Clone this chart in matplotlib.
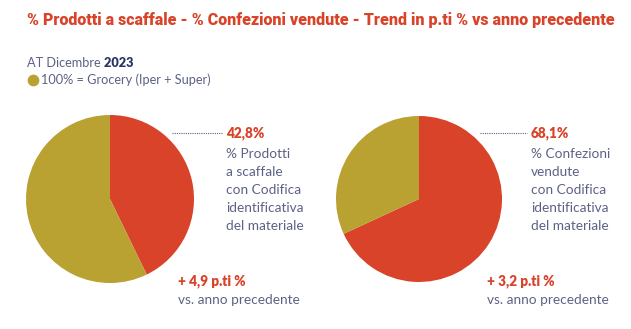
import matplotlib
matplotlib.use('Agg')
import matplotlib.pyplot as plt

# data
shelf_share = [42.8, 57.2]      # % prodotti a scaffale con codifica
sold_share = [68.1, 31.9]       # % confezioni vendute con codifica
shelf_trend = '+ 4,9 p.ti %'
sold_trend = '+ 3,2 p.ti %'
shelf_label = ['% Prodotti', 'a scaffale', 'con Codifica', 'identificativa', 'del materiale']
sold_label = ['% Confezioni', 'vendute', 'con Codifica', 'identificativa', 'del materiale']

RED = '#d8432a'
OLIVE = '#b9a132'
TEXT = '#5d6285'
NAVY = '#2b3466'
W, H = 631, 329

fig = plt.figure(figsize=(W / 100, H / 100), dpi=100)
fig.patch.set_facecolor('white')

# overlay axes in pixel coordinates for text / lines
ov = fig.add_axes([0, 0, 1, 1])
ov.set_xlim(0, W)
ov.set_ylim(H, 0)
ov.axis('off')


def pie_at(cx, cy, r, values):
    ax = fig.add_axes([(cx - r) / W, (H - cy - r) / H, 2 * r / W, 2 * r / H])
    ax.pie(values, colors=[RED, OLIVE], startangle=90, counterclock=False,
           wedgeprops=dict(linewidth=0))
    ax.set_xlim(-1, 1)
    ax.set_ylim(-1, 1)
    ax.axis('off')


pie_at(110, 199, 84, shelf_share)
pie_at(419, 199, 83, sold_share)

ov.text(27, 20, '% Prodotti a scaffale - % Confezioni vendute - Trend in p.ti % vs anno precedente',
        color=RED, fontsize=11.5, fontweight='heavy', family='Roboto', va='center', ha='left')

t = ov.text(27, 63, 'AT Dicembre', color=TEXT, fontsize=9.2, family='Lato', va='center')
ov.annotate(' 2023', xy=(1, 0.5), xycoords=t, color=NAVY, fontsize=9.2, family='Lato',
            fontweight='heavy', va='center', ha='left')
ov.scatter([33], [80], s=55, color=OLIVE, zorder=3)
ov.text(41, 80, '100% = Grocery (Iper + Super)', color=TEXT, fontsize=9.2, family='Lato', va='center')


def callout(x0, x1, y, value, lines, tx, ty, trend):
    ov.plot([x0, x1], [y, y], color=TEXT, lw=0.8, ls=(0, (1, 1)))
    ov.text(x1 + 4, y, f'{value:.1f}%'.replace('.', ','), color=RED, fontsize=9.8,
            family='Lato', fontweight='heavy', va='center')
    for i, s in enumerate(lines):
        ov.text(x1 + 4, y + 21 + i * 18, s, color=TEXT, fontsize=9.8, family='Lato', va='center')
    ov.text(tx, ty, trend, color=RED, fontsize=9.8, family='Lato', fontweight='heavy', va='center')
    ov.text(tx, ty + 19, 'vs. anno precedente', color=TEXT, fontsize=9.8, family='Lato', va='center')


callout(172, 222, 133, shelf_share[0], shelf_label, 178, 281, shelf_trend)
callout(480, 527, 133, sold_share[0], sold_label, 487, 281, sold_trend)

fig.savefig('out.png', dpi=100)
